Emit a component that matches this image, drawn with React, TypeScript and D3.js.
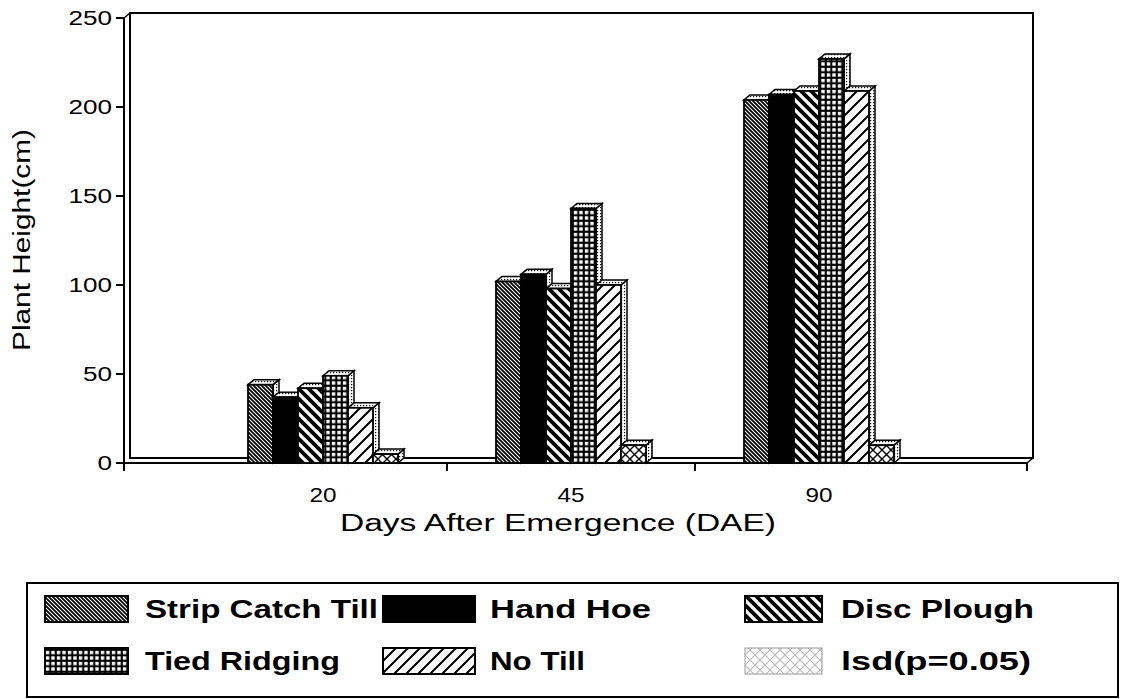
import React from "react";
import * as d3 from "d3";

const categories = ["20", "45", "90"];
const seriesNames = ["Strip Catch Till", "Hand Hoe", "Disc Plough", "Tied Ridging", "No Till", "lsd(p=0.05)"];
const stripCatchTill = [44, 102, 204];
const handHoe = [37, 106, 207];
const discPlough = [42, 98, 209];
const tiedRidging = [49, 143, 227];
const noTill = [31, 100, 209];
const lsd = [5, 10, 10];
const yTicks = [0, 50, 100, 150, 200, 250];

const seriesValues = [stripCatchTill, handHoe, discPlough, tiedRidging, noTill, lsd];
const fills = ["url(#pStrip)", "#000", "url(#pDisc)", "url(#pTied)", "url(#pNoTill)", "url(#pLsd)"];
const legendFills = ["url(#pStrip)", "#000", "url(#pDisc)", "url(#pTied)", "url(#pNoTill)", "url(#pLsdLight)"];

export default function App() {
  const W = 1125, H = 699;
  const y = d3.scaleLinear().domain([0, 250]).range([463, 18]);
  const x0 = d3.scaleBand<string>().domain(categories).range([199, 943]);
  const groupW = 150;
  const x1 = d3.scaleBand<string>().domain(seriesNames).range([0, groupW]);
  const dx = 6, dy = 5;
  const axL = 124, axR = 1027, axB = 463, axT = 18;

  const bars: JSX.Element[] = [];
  categories.forEach((c, ci) => {
    const gx = (x0(c) as number) + x0.bandwidth() / 2 - groupW / 2;
    seriesNames.forEach((s, si) => {
      const v = seriesValues[si][ci];
      const xa = gx + (x1(s) as number);
      const xb = xa + x1.bandwidth();
      const yt = y(v);
      const yb = y(0);
      bars.push(
        <g key={c + s}>
          <polygon
            points={`${xb},${yt} ${xb + dx},${yt - dy} ${xb + dx},${yb - dy} ${xb},${yb}`}
            fill="url(#pDots)" stroke="#000" strokeWidth={1.5} />
          <polygon
            points={`${xa},${yt} ${xa + dx},${yt - dy} ${xb + dx},${yt - dy} ${xb},${yt}`}
            fill="url(#pDots)" stroke="#000" strokeWidth={1.5} />
          <rect x={xa} y={yt} width={xb - xa} height={yb - yt} fill={fills[si]} stroke="#000" strokeWidth={1.8} />
        </g>
      );
    });
  });

  const centers = categories.map(c => (x0(c) as number) + x0.bandwidth() / 2);
  const xTickPos = [axL, (centers[0] + centers[1]) / 2, (centers[1] + centers[2]) / 2, axR];

  const legendCols = [
    { sx: 45, sw: 83, tx: 145 },
    { sx: 383, sw: 92, tx: 490 },
    { sx: 745, sw: 77, tx: 841 },
  ];
  const legendRows = [{ sy: 596, base: 618 }, { sy: 648, base: 670 }];
  const legendLens = [233, 161, 193, 195, 95, 190];

  const font = "'Liberation Sans', Arial, Helvetica, sans-serif";
  const adj = "spacingAndGlyphs";

  return (
    <svg width={W} height={H} style={{ position: "absolute", left: 0, top: 0, background: "#fff" }}>
      <defs>
        <pattern id="pStrip" patternUnits="userSpaceOnUse" width={4} height={4}>
          <rect width={4} height={4} fill="#fff" />
          <path d="M-1,-1 L5,5 M-1,3 L1,5 M3,-1 L5,1" stroke="#000" strokeWidth={1.8} />
        </pattern>
        <pattern id="pDisc" patternUnits="userSpaceOnUse" width={10} height={10}>
          <rect width={10} height={10} fill="#fff" />
          <path d="M-2,-2 L12,12 M-2,8 L2,12 M8,-2 L12,2" stroke="#000" strokeWidth={3.8} />
        </pattern>
        <pattern id="pNoTill" patternUnits="userSpaceOnUse" width={12} height={12}>
          <rect width={12} height={12} fill="#fff" />
          <path d="M-2,14 L14,-2 M-2,2 L2,-2 M10,14 L14,10" stroke="#000" strokeWidth={2} />
        </pattern>
        <pattern id="pTied" patternUnits="userSpaceOnUse" width={5.5} height={5.5}>
          <rect width={5.5} height={5.5} fill="#000" />
          <rect x={1.8} y={1.8} width={3.4} height={3.4} fill="#fff" />
        </pattern>
        <pattern id="pLsd" patternUnits="userSpaceOnUse" width={9} height={9}>
          <rect width={9} height={9} fill="#fff" />
          <path d="M0,0 L9,9 M9,0 L0,9" stroke="#000" strokeWidth={1.4} />
        </pattern>
        <pattern id="pLsdLight" patternUnits="userSpaceOnUse" width={10} height={10}>
          <rect width={10} height={10} fill="#fff" />
          <path d="M0,0 L10,10 M10,0 L0,10" stroke="#bbb" strokeWidth={1.2} />
        </pattern>
        <pattern id="pDots" patternUnits="userSpaceOnUse" width={3} height={3}>
          <rect width={3} height={3} fill="#fff" />
          <rect width={1.2} height={1.2} fill="#000" />
        </pattern>
      </defs>

      {/* back wall */}
      <rect x={axL + dx} y={axT - dy} width={axR - axL} height={axB - axT} fill="none" stroke="#000" strokeWidth={2} />

      {bars}

      {/* axes */}
      <line x1={axL} y1={axT} x2={axL} y2={axB + 8} stroke="#000" strokeWidth={2} />
      <line x1={axL} y1={axB} x2={axR} y2={axB} stroke="#000" strokeWidth={2} />
      <line x1={axL} y1={axT} x2={axL + dx} y2={axT - dy} stroke="#000" strokeWidth={1.5} />
      <line x1={axR} y1={axB} x2={axR + dx} y2={axB - dy} stroke="#000" strokeWidth={1.5} />
      {yTicks.map(t => {
        const s = String(t);
        return (
          <g key={"yt" + t}>
            <line x1={axL - 8} y1={y(t)} x2={axL} y2={y(t)} stroke="#000" strokeWidth={2} />
            <text x={axL - 12} y={y(t) + 7} textAnchor="end" fontFamily={font} fontSize={20}
              textLength={s.length * 14.5} lengthAdjust={adj}>{s}</text>
          </g>
        );
      })}
      {xTickPos.map((p, i) => (
        <line key={"xt" + i} x1={p} y1={axB} x2={p} y2={axB + 8} stroke="#000" strokeWidth={2} />
      ))}
      {categories.map((c, i) => (
        <text key={"xl" + c} x={centers[i]} y={502} textAnchor="middle" fontFamily={font} fontSize={21}
          textLength={27} lengthAdjust={adj}>{c}</text>
      ))}
      <text x={558} y={531} textAnchor="middle" fontFamily={font} fontSize={23}
        textLength={436} lengthAdjust={adj}>Days After Emergence (DAE)</text>
      <text transform="translate(30,240) rotate(-90)" textAnchor="middle" fontFamily={font} fontSize={23}
        textLength={222} lengthAdjust={adj}>Plant Height(cm)</text>

      {/* legend */}
      <rect x={27} y={583} width={1091} height={114} fill="none" stroke="#000" strokeWidth={2} />
      {seriesNames.map((s, i) => {
        const col = legendCols[i % 3];
        const row = legendRows[Math.floor(i / 3)];
        return (
          <g key={"lg" + s}>
            <rect x={col.sx} y={row.sy} width={col.sw} height={26} fill={legendFills[i]}
              stroke={i === 5 ? "#999" : "#000"} strokeWidth={i === 5 ? 1 : 2} />
            <text x={col.tx} y={row.base} fontFamily={font} fontSize={25} fontWeight="bold"
              textLength={legendLens[i]} lengthAdjust={adj}>{s}</text>
          </g>
        );
      })}
    </svg>
  );
}
